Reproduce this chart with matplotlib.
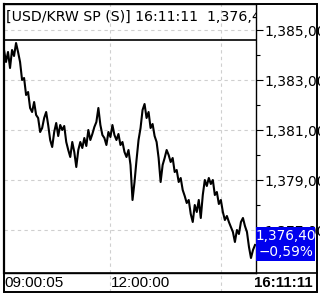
import numpy as np
import matplotlib
matplotlib.use("Agg")
from matplotlib import pyplot as plt
from matplotlib.patches import Rectangle
from matplotlib.transforms import blended_transform_factory

# USD/KRW spot, intraday trace (evenly spaced samples)
prices = [
    1384.20, 1383.72, 1384.12, 1383.48, 1384.20, 1383.96, 1384.48, 1384.12,
    1383.72, 1383.00, 1383.08, 1382.40, 1382.52, 1381.88, 1381.72, 1382.12,
    1381.60, 1381.48, 1380.92, 1381.08, 1381.48, 1381.72, 1381.20, 1380.60,
    1380.32, 1380.92, 1381.28, 1380.76, 1381.20, 1381.00, 1381.16, 1380.52,
    1380.20, 1379.92, 1380.52, 1380.12, 1379.52, 1380.20, 1380.52, 1380.28,
    1380.68, 1380.36, 1381.00, 1380.60, 1380.84, 1381.12, 1381.32, 1381.88,
    1381.20, 1380.80, 1380.68, 1380.40, 1380.92, 1380.72, 1381.20, 1380.80,
    1380.60, 1380.84, 1380.40, 1380.52, 1380.12, 1379.92, 1380.20, 1379.60,
    1378.20, 1378.92, 1379.80, 1380.60, 1381.08, 1381.80, 1382.04, 1381.48,
    1381.72, 1381.08, 1381.24, 1380.76, 1380.52, 1379.88, 1378.92, 1379.60,
    1379.88, 1380.20, 1380.00, 1379.72, 1379.88, 1379.32, 1379.40, 1378.92,
    1379.08, 1378.60, 1378.36, 1378.08, 1378.20, 1377.64, 1377.32, 1378.00,
    1377.72, 1378.20, 1377.48, 1378.40, 1379.00, 1378.76, 1379.08, 1378.84,
    1379.00, 1378.40, 1378.52, 1378.04, 1378.20, 1377.72, 1377.40, 1377.56,
    1377.32, 1377.12, 1376.92, 1376.52, 1377.00, 1376.84, 1377.32, 1377.48,
    1377.16, 1376.92, 1376.32, 1375.88, 1376.20, 1376.40,
]
time_labels = ["09:00:05", "12:00:00", "16:11:11"]
time_pos = [0, 52.85, 107.85]   # sample index of 09:00:05, 12:00, 15:00 grid
price_ticks = [1377, 1379, 1381, 1383, 1385]
minor_ticks = [1376, 1378, 1380, 1382, 1384]
title = "[USD/KRW SP (S)] 16:11:11  1,376,40"
last_price = "1,376,40"
change = "\u22120,59%"

W, H = 320, 296
fig = plt.figure(figsize=(W / 100, H / 100), dpi=100)
fig.patch.set_facecolor("white")

def fx(px):
    return px / W

def fy(py):
    return 1 - py / H

# main plot area
ax = fig.add_axes([fx(4), fy(273), fx(251.7), (273 - 4) / H])
x = np.arange(len(prices))
ax.plot(x, prices, color="black", lw=1.5, zorder=3)
ax.set_xlim(0, 125.35)
ax.set_ylim(1375.28, 1386.04)

ax.yaxis.tick_right()
ax.set_yticks(price_ticks)
ax.set_yticklabels(["{:,.2f}".format(v).replace(".", ",") for v in price_ticks],
                   fontsize=10, family="DejaVu Sans")
ax.set_yticks(minor_ticks, minor=True)
ax.tick_params(axis="y", which="major", direction="out", length=5, width=0.8, pad=1)
ax.tick_params(axis="y", which="minor", direction="out", length=3, width=0.8)
ax.set_xticks(time_pos[1:])
ax.tick_params(axis="x", length=0, labelbottom=False)
ax.grid(True, color="#cfcfcf", ls=(0, (3, 3)), lw=0.8)
for s in ax.spines.values():
    s.set_color("black")
    s.set_linewidth(1.0)
ax.spines["left"].set_linewidth(1.6)

# title bar
ax.axhline(1384.6, color="black", lw=1.2, zorder=4)
ax.text(0.008, 0.978, title, transform=ax.transAxes, ha="left", va="top",
        fontsize=10.2, family="DejaVu Sans", clip_on=True, zorder=5)

# outer frame and time bar
fig.add_artist(Rectangle((fx(4), fy(292)), fx(313), (292 - 4) / H, fill=False,
                         ec="black", lw=1.4, transform=fig.transFigure))
fig.add_artist(plt.Line2D([fx(4), fx(317)], [fy(273), fy(273)], color="black",
                          lw=1.2, transform=fig.transFigure))

tr = blended_transform_factory(ax.transData, fig.transFigure)
for xp in time_pos[1:]:
    ax.plot([xp, xp], [fy(292), fy(273)], color="#cfcfcf", ls=(0, (3, 3)),
            lw=0.8, transform=tr, clip_on=False)
ax.text(time_pos[0], fy(283), time_labels[0], transform=tr, ha="left",
        va="center", fontsize=11, family="Liberation Sans", clip_on=False)
ax.text(time_pos[1] + 0.2, fy(283), time_labels[1], transform=tr, ha="left",
        va="center", fontsize=11, family="Liberation Sans", clip_on=False)
fig.text(fx(313), fy(283), time_labels[2], ha="right", va="center",
         fontsize=10.8, family="Liberation Sans", weight="bold")

# last price box
fig.add_artist(Rectangle((fx(256), fy(261)), fx(59), (261 - 227) / H,
                         fc="#0000ee", ec="none", transform=fig.transFigure,
                         zorder=10))
fig.text(fx(286), fy(236), last_price, ha="center", va="center", color="white",
         fontsize=9.8, family="DejaVu Sans", zorder=11)
fig.text(fx(286), fy(252), change, ha="center", va="center", color="white",
         fontsize=9.8, family="DejaVu Sans", zorder=11)

fig.savefig("out.png", dpi=100)
